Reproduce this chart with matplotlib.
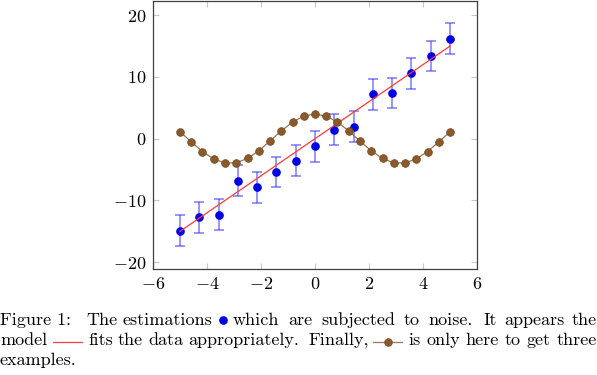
import matplotlib
matplotlib.use('Agg')
import matplotlib.pyplot as plt
from matplotlib.lines import Line2D

plt.rcParams['font.family'] = 'serif'
plt.rcParams['font.serif'] = ['cmr10']
plt.rcParams['mathtext.fontset'] = 'cm'
plt.rcParams['axes.formatter.use_mathtext'] = True

# estimations (noisy)
est_x = [-5.0, -4.29, -3.57, -2.86, -2.14, -1.43, -0.71, 0.0, 0.71, 1.43, 2.14, 2.86, 3.57, 4.29, 5.0]
est_y = [-14.9, -12.7, -12.3, -6.8, -7.85, -5.4, -3.55, -1.2, 1.45, 1.95, 7.2, 7.4, 10.6, 13.4, 16.2]
est_err = [2.5] * 15

# model
model_x = [-5.0, 5.0]
model_y = [-15.0, 15.0]

# third example
ex_x = [-5.0, -4.583, -4.167, -3.75, -3.333, -2.917, -2.5, -2.083, -1.667, -1.25, -0.833, -0.417, 0.0,
        0.417, 0.833, 1.25, 1.667, 2.083, 2.5, 2.917, 3.333, 3.75, 4.167, 4.583, 5.0]
ex_y = [1.13, -0.51, -2.08, -3.28, -3.93, -3.9, -3.2, -1.96, -0.38, 1.26, 2.69, 3.66, 4.0,
        3.66, 2.69, 1.26, -0.38, -1.96, -3.2, -3.9, -3.93, -3.28, -2.08, -0.51, 1.13]

xticks = [-6, -4, -2, 0, 2, 4, 6]
yticks = [-20, -10, 0, 10, 20]

brown_face = '#8a5a2c'
brown_line = '#9c7652'

fig = plt.figure(figsize=(5.97, 3.75), dpi=100)
ax = fig.add_axes([153 / 597, 1 - 269 / 375, 324 / 597, 268 / 375])

ax.errorbar(est_x, est_y, yerr=est_err, fmt='none', ecolor=(0.2, 0.2, 1.0, 0.65),
            elinewidth=1.1, capsize=3.3, capthick=1.1, zorder=2)
ax.plot(est_x, est_y, 'o', color='#0000e6', markersize=5.2, zorder=3)
ax.plot(model_x, model_y, '-', color='#ff3a3a', lw=0.9, zorder=4)
ax.plot(ex_x, ex_y, '-o', color=brown_line, lw=0.9, markersize=5.5,
        markerfacecolor=brown_face, markeredgecolor='#7a4f26', markeredgewidth=0.6, zorder=5)

ax.set_xlim(-6, 6)
ax.set_ylim(-21.1, 22.3)
ax.set_xticks(xticks)
ax.set_yticks(yticks)
ax.tick_params(direction='in', length=4, color='#c8c8c8', labelsize=13,
               top=True, right=True, pad=5)
for s in ax.spines.values():
    s.set_color('#404040')
    s.set_linewidth(0.9)

# caption (positions in pixels)
fs = 13
W, H = 597.0, 375.0
b1, b2, b3 = 1 - 325 / H, 1 - 345 / H, 1 - 365 / H
m1, m2 = 1 - 320 / H, 1 - 342 / H
renderer = fig.canvas.get_renderer()


def justify(x0, x1, y, s):
    # spread the words of s evenly between pixel x0 and x1
    words = s.split()
    texts = [fig.text(0, y, w, fontsize=fs, va='baseline') for w in words]
    widths = [t.get_window_extent(renderer).width for t in texts]
    gap = (x1 - x0 - sum(widths)) / max(len(words) - 1, 1)
    x = x0
    for t, w in zip(texts, widths):
        t.set_x(x / W)
        x += w + gap


fig.text(0, b1, 'Figure 1:', fontsize=fs, va='baseline')
justify(86, 212, b1, 'The estimations')
fig.add_artist(Line2D([223 / W], [m1], marker='o', color='#0000e6', markersize=5.2,
                      transform=fig.transFigure))
justify(233, 473, b1, 'which are subjected to noise.')
justify(484, 597, b1, 'It appears the')

fig.text(0, b2, 'model', fontsize=fs, va='baseline')
fig.add_artist(Line2D([53 / W, 82 / W], [m2, m2], color='#ff3a3a', lw=0.9,
                      transform=fig.transFigure))
justify(88, 299, b2, 'fits the data appropriately.')
fig.text(308 / W, b2, 'Finally,', fontsize=fs, va='baseline')
fig.add_artist(Line2D([373 / W, 388 / W, 402 / W], [m2] * 3, color=brown_line, lw=0.9,
                      marker='o', markevery=[1], markersize=5.5, markerfacecolor=brown_face,
                      markeredgecolor='#7a4f26', markeredgewidth=0.6, transform=fig.transFigure))
justify(408, 597, b2, 'is only here to get three')

fig.text(0, b3, 'examples.', fontsize=fs, va='baseline')

fig.savefig('out.png', dpi=100)
